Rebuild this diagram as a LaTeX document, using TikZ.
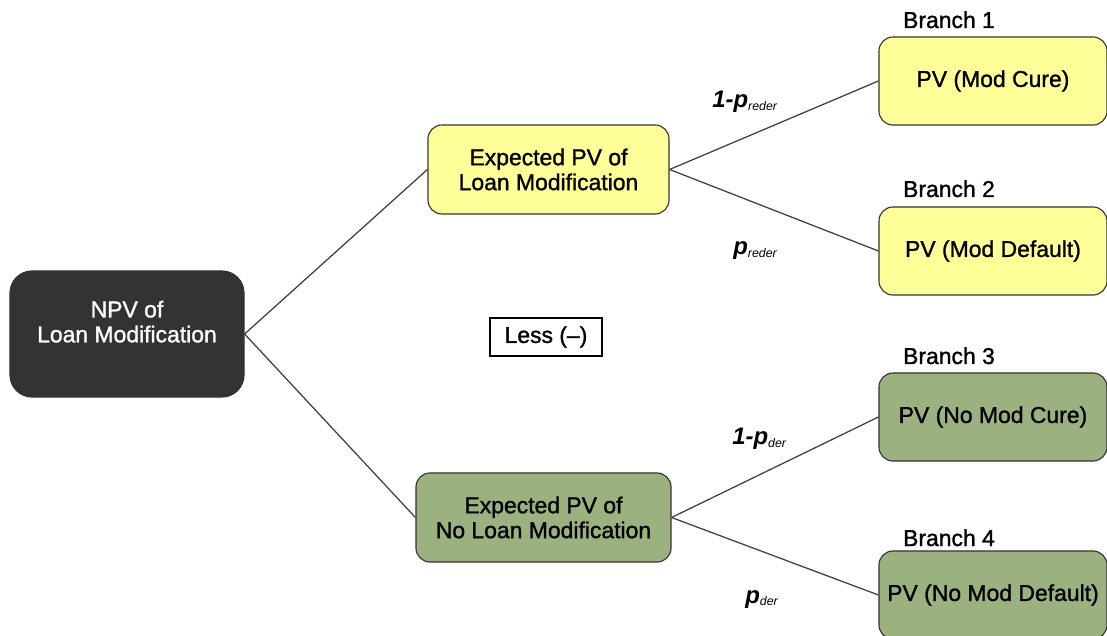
\documentclass[tikz,border=0pt]{standalone}
\usepackage{fontspec}
\setmainfont{Liberation Sans}
\newfontfamily\medfont{Liberation Sans}[Ligatures=TeX,FakeBold=1.2]
\usetikzlibrary{calc}
\definecolor{npvgray}{HTML}{333333}
\definecolor{modyellow}{HTML}{FFFF99}
\definecolor{nomodgreen}{HTML}{9BB17F}
\newcommand{\prob}[2]{{\fontsize{17}{17}\selectfont\bfseries\itshape #1p}{\raisebox{-1.5pt}{\fontsize{8.8}{9}\selectfont\itshape #2}}}
\tikzset{
  box/.style={draw=black!80, line width=0.8pt, rounded corners=0.35cm, align=center,
    font=\medfont\fontsize{16.3}{17.7}\selectfont, inner sep=0pt},
  leaf/.style={box, minimum width=5.7cm, minimum height=2.2cm},
  branchlab/.style={font=\medfont\fontsize{16.3}{17.7}\selectfont, anchor=base},
  problab/.style={anchor=base west, inner sep=0pt},
  twig/.style={line width=0.9pt, draw=black!75}
}
\begin{document}
\begin{tikzpicture}[x=0.025cm,y=-0.025cm]
  \useasboundingbox (0,0) rectangle (1107,636);

  %%%%% boxes %%%%%
  \node[box, fill=npvgray, text=white, rounded corners=0.55cm, minimum width=5.85cm, minimum height=3.15cm] (npv) at (127,334) {NPV of\\Loan Modification\\\mbox{}};

  \node[box, fill=modyellow, minimum width=6.025cm, minimum height=2.225cm] (expmod) at (548.5,169.5) {Expected PV of\\Loan Modification};
  \node[box, fill=nomodgreen, minimum width=6.375cm, minimum height=2.225cm] (expnomod) at (543.5,517.5) {Expected PV of\\No Loan Modification};

  \node[leaf, fill=modyellow] (modcure) at (993,81) {PV (Mod Cure)};
  \node[leaf, fill=modyellow] (moddef) at (993,251) {PV (Mod Default)};
  \node[leaf, fill=nomodgreen] (nomodcure) at (993,417) {PV (No Mod Cure)};
  \node[leaf, fill=nomodgreen] (nomoddef) at (993,595) {PV (No Mod Default)};

  \node[draw=black, line width=0.8pt, fill=white, font=\medfont\fontsize{16.3}{17.7}\selectfont, minimum width=2.8cm, minimum height=0.95cm, inner sep=0pt] (less) at (546,337) {Less (–)};

  %%%%% branch labels %%%%%
  \node[branchlab] (b1) at (949,28) {Branch 1};
  \node[branchlab] (b2) at (949,197) {Branch 2};
  \node[branchlab] (b3) at (949,364) {Branch 3};
  \node[branchlab] (b4) at (949,546) {Branch 4};

  %%%%% connectors %%%%%
  \draw[twig] (npv.east) -- (expmod.west);
  \draw[twig] (npv.east) -- (expnomod.west);
  \draw[twig] (expmod.east) -- (modcure.west);
  \draw[twig] (expmod.east) -- (moddef.west);
  \draw[twig] (expnomod.east) -- (nomodcure.west);
  \draw[twig] (expnomod.east) -- (nomoddef.west);

  %%%%% probabilities %%%%%
  \node[problab] (p1) at (712,108) {\prob{1-}{reder}};
  \node[problab] (p2) at (733,255) {\prob{}{reder}};
  \node[problab] (p3) at (732,445) {\prob{1-}{der}};
  \node[problab] (p4) at (745,603) {\prob{}{der}};
\end{tikzpicture}
\end{document}
